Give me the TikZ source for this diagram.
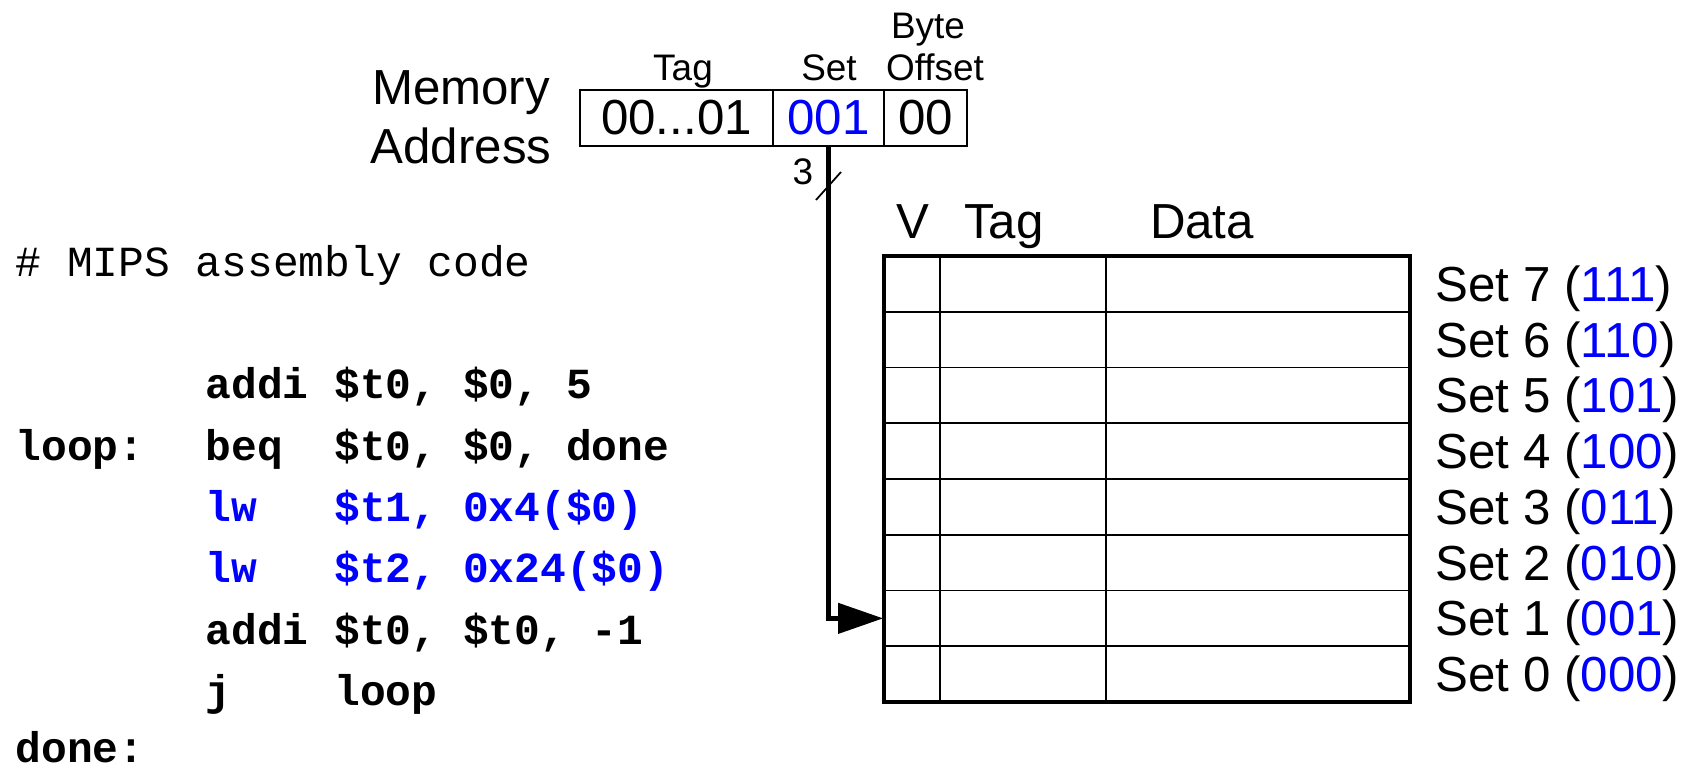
\documentclass[tikz,border=0pt]{standalone}
\usepackage{fontspec}
\setmainfont{Liberation Sans}
\setmonofont{Liberation Mono}
\usetikzlibrary{arrows.meta}
\definecolor{bitblue}{RGB}{0,0,255}
\begin{document}
\begin{tikzpicture}[x=0.01cm,y=-0.01cm,
  big/.style={font=\fontsize{14}{16}\selectfont, inner sep=0},
  small/.style={font=\fontsize{10.5}{12}\selectfont, inner sep=0},
  code/.style={font=\fontsize{12.2}{14}\selectfont\ttfamily\bfseries, inner sep=0, anchor=mid west},
  field/.style={draw, line width=0.5pt, minimum height=0.56cm, inner sep=0, font=\fontsize{14}{16}\selectfont},
  grid/.style={line width=0.5pt},
  frame/.style={line width=1.3pt},
  row/.style={minimum width=5.26cm, minimum height=0.5575cm, inner sep=0},
  setlbl/.style={big, anchor=base west},
  bus/.style={line width=1.3pt, -{Triangle[length=12.8pt,width=8.5pt]}}
]
\useasboundingbox (0,0) rectangle (1688,768);

% ---- memory address ----
\node[big, anchor=base] (mem)  at (461,105) {Memory};
\node[big, anchor=base] (addr) at (461,164) {Address};

\node[field, minimum width=1.93cm] (tagf) at (676.5,118) {00...01};
\node[field, minimum width=1.11cm, text=bitblue] (setf) at (828.5,118) {001};
\node[field, minimum width=0.83cm] (offf) at (925.5,118) {00};

\node[small, anchor=base] (tagh) at (683,81) {Tag};
\node[small, anchor=base] (seth) at (829,81) {Set};
\node[small, anchor=base] (offh) at (935,81) {Offset};
\node[small, anchor=base] (byteh) at (928,39) {Byte};

% ---- cache ----
\node[big, anchor=base] (vh)    at (913,239) {V};
\node[big, anchor=base] (ctagh) at (1004,239) {Tag};
\node[big, anchor=base] (datah) at (1202,239) {Data};

\foreach \s [count=\i from 0] in {7,6,5,4,3,2,1,0} {
  \node[row] (row\s) at (1147,{256+(\i+0.5)*55.75}) {};
}
\foreach \k in {1,...,7} \draw[grid] (884,{256+\k*55.75}) -- (1410,{256+\k*55.75});
\draw[grid] (940,256) -- (940,702);
\draw[grid] (1106,256) -- (1106,702);
\draw[frame] (884,256) rectangle (1410,702);

\node[setlbl] (s7) at (1435,{256+0.5*55.75+17.5}) {Set 7 (\textcolor{bitblue}{111})};
\node[setlbl] (s6) at (1435,{256+1.5*55.75+17.5}) {Set 6 (\textcolor{bitblue}{110})};
\node[setlbl] (s5) at (1435,{256+2.5*55.75+17.5}) {Set 5 (\textcolor{bitblue}{101})};
\node[setlbl] (s4) at (1435,{256+3.5*55.75+17.5}) {Set 4 (\textcolor{bitblue}{100})};
\node[setlbl] (s3) at (1435,{256+4.5*55.75+17.5}) {Set 3 (\textcolor{bitblue}{011})};
\node[setlbl] (s2) at (1435,{256+5.5*55.75+17.5}) {Set 2 (\textcolor{bitblue}{010})};
\node[setlbl] (s1) at (1435,{256+6.5*55.75+17.5}) {Set 1 (\textcolor{bitblue}{001})};
\node[setlbl] (s0) at (1435,{256+7.5*55.75+17.5}) {Set 0 (\textcolor{bitblue}{000})};

% ---- set index bus ----
\draw[bus] (setf.south) |- (row1.west);
\draw[line width=0.5pt] (816,200) -- (841,172);
\node[small, anchor=base] (width) at (803,185) {3};

% ---- assembly code ----
\node[code, font=\fontsize{12.2}{14}\selectfont\ttfamily\mdseries] (cmt) at (15,267) {\#~MIPS~assembly~code};
\node[code] (i1) at (205,389) {addi~\$t0,~\$0,~5};
\node[code] (l1) at (15,451) {loop:};
\node[code] (i2) at (205,451) {beq~~\$t0,~\$0,~done};
\node[code, text=bitblue] (i3) at (205,512) {lw~~~\$t1,~0x4(\$0)};
\node[code, text=bitblue] (i4) at (205,573) {lw~~~\$t2,~0x24(\$0)};
\node[code] (i5) at (205,635) {addi~\$t0,~\$t0,~-1};
\node[code] (i6) at (205,696) {j~~~~loop};
\node[code] (l2) at (15,753) {done:};
\end{tikzpicture}
\end{document}
